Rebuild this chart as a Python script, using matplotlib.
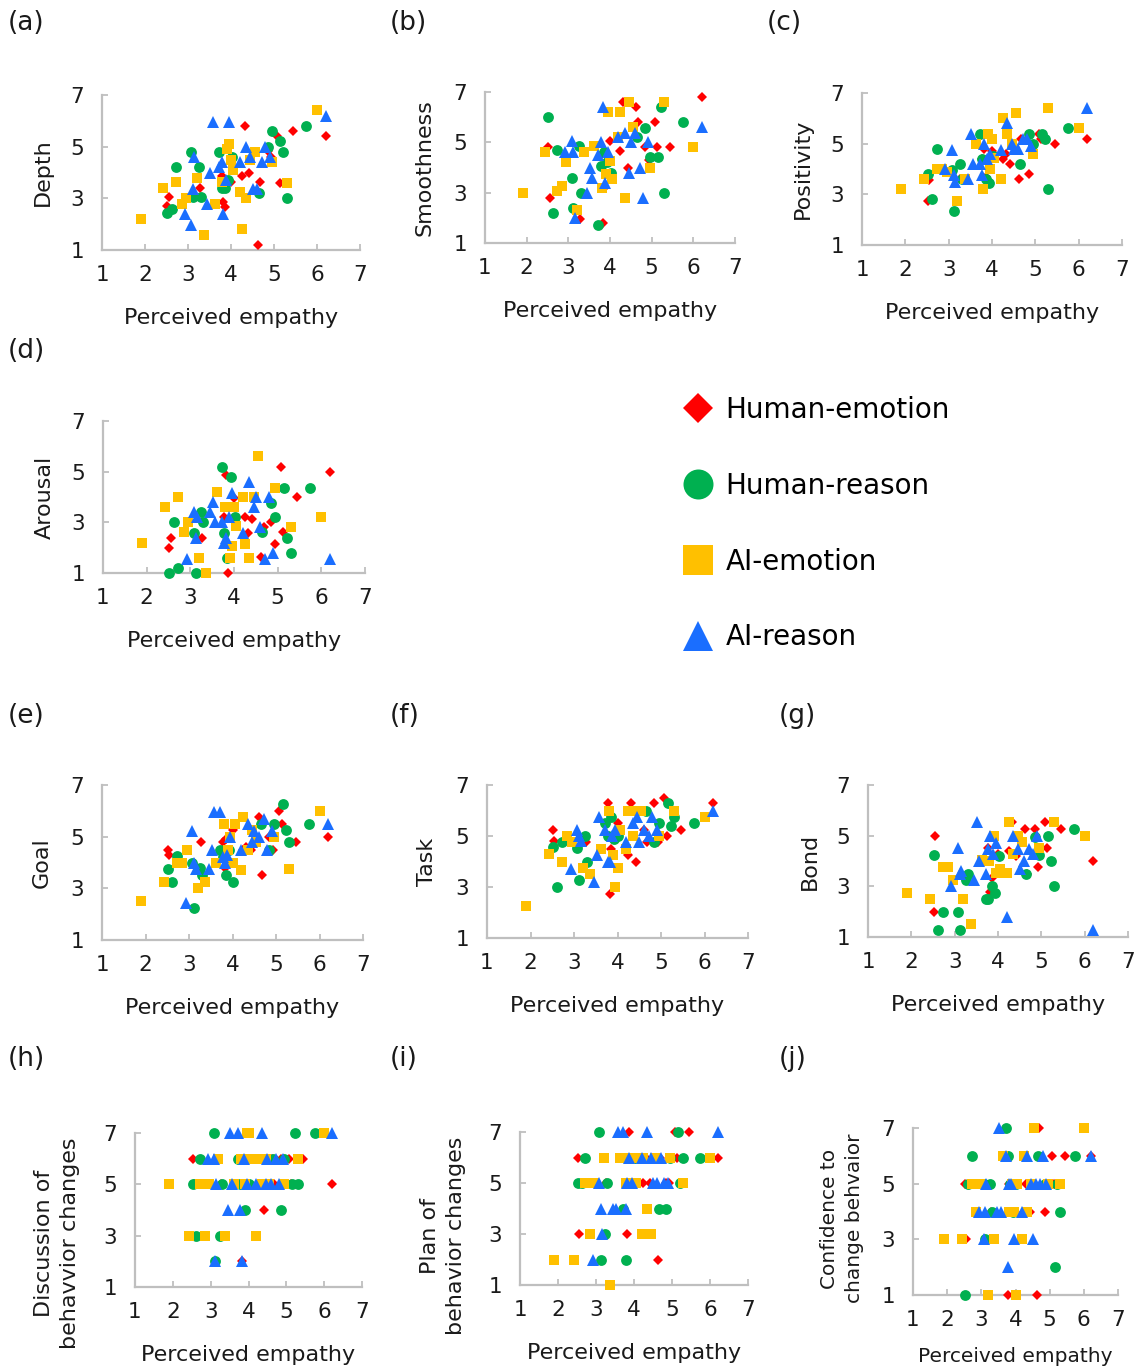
import matplotlib
matplotlib.use("Agg")
import matplotlib.pyplot as plt
from matplotlib.lines import Line2D

# ---------------- data ----------------
groups = ["Human-emotion", "Human-reason", "AI-emotion", "AI-reason"]

# perceived empathy of each participant, per group
he_x = [2.52, 2.55, 3.27, 3.78, 3.82, 3.86, 4.0, 4.25, 4.32, 4.42, 4.62, 4.68, 4.85, 4.93, 5.08, 5.13, 5.45, 6.2]
hr_x = [2.52, 2.62, 2.72, 3.08, 3.12, 3.25, 3.3, 3.72, 3.78, 3.85, 3.92, 4.02, 4.65, 4.85, 4.95, 5.15, 5.22, 5.3, 5.75]
ae_x = [1.9, 2.43, 2.72, 2.85, 2.95, 3.2, 3.37, 3.62, 3.8, 3.9, 3.95, 4.0, 4.05, 4.2, 4.25, 4.35, 4.45, 4.55, 4.95, 5.3, 6.0]
ar_x = [2.92, 3.08, 3.12, 3.15, 3.45, 3.52, 3.57, 3.72, 3.78, 3.82, 3.88, 3.95, 4.2, 4.35, 4.45, 4.5, 4.6, 4.72, 4.8, 4.9, 6.2]

# (a) Depth
depth_he = [2.7, 3.05, 3.4, 3.85, 2.85, 2.65, 3.65, 3.85, 5.8, 4.0, 1.2, 3.65, 4.85, 4.6, 5.4, 3.6, 5.6, 5.4]
depth_hr = [2.45, 2.6, 4.2, 4.8, 3.05, 4.2, 3.05, 4.8, 3.4, 3.4, 3.7, 4.6, 3.2, 5.0, 5.6, 5.2, 4.8, 3.0, 5.8]
depth_ae = [2.2, 3.4, 3.65, 2.8, 3.0, 3.8, 1.6, 2.8, 3.65, 4.9, 5.1, 4.5, 4.1, 3.25, 1.8, 3.0, 4.5, 4.8, 4.4, 3.6, 6.4]
depth_ar = [2.4, 1.95, 3.35, 4.6, 2.8, 4.0, 5.95, 4.2, 4.4, 2.4, 3.7, 5.95, 4.4, 5.0, 4.6, 3.35, 3.35, 4.4, 5.0, 4.6, 6.2]
# (b) Smoothness
smooth_he = [4.8, 2.8, 1.95, 4.5, 1.8, 3.2, 5.04, 4.65, 6.6, 4.0, 6.4, 5.8, 4.8, 4.3, 5.8, 4.8, 4.8, 6.8]
smooth_hr = [6.0, 2.2, 4.7, 3.6, 2.38, 4.85, 3.0, 1.73, 4.05, 4.6, 4.2, 3.8, 5.2, 5.55, 4.4, 4.4, 6.4, 3.0, 5.8]
smooth_ae = [3.0, 4.6, 3.05, 3.25, 4.2, 2.3, 4.6, 4.85, 3.2, 3.75, 6.2, 4.25, 3.55, 5.2, 6.2, 2.8, 6.6, 5.6, 4.0, 6.6, 4.8]
smooth_ar = [4.6, 5.04, 4.6, 2.0, 3.0, 4.0, 3.6, 4.5, 5.0, 6.4, 3.4, 4.6, 5.2, 5.37, 3.8, 5.0, 5.37, 4.0, 2.8, 5.0, 5.6]
# (c) Positivity
posit_he = [2.73, 3.56, 3.6, 4.4, 4.8, 3.7, 4.7, 4.4, 4.6, 4.2, 3.6, 5.2, 3.8, 4.8, 5.4, 5.2, 5.0, 5.2]
posit_hr = [3.82, 2.8, 4.8, 3.95, 2.35, 4.2, 3.6, 5.4, 4.4, 3.6, 3.45, 4.5, 4.2, 5.4, 5.0, 5.4, 5.2, 3.2, 5.6]
posit_ae = [3.2, 3.6, 4.0, 4.0, 3.9, 2.73, 3.6, 5.0, 3.2, 5.4, 4.0, 5.2, 4.45, 3.6, 6.0, 5.4, 5.0, 6.2, 4.6, 6.4, 5.6]
posit_ar = [4.0, 4.76, 3.76, 3.5, 3.6, 5.4, 4.2, 4.2, 3.76, 5.0, 4.4, 4.6, 4.76, 5.8, 5.0, 4.8, 4.8, 5.2, 5.2, 4.9, 6.4]
# (d) Arousal
arous_he = [1.98, 2.4, 2.4, 3.2, 4.87, 1.0, 3.98, 3.2, 2.57, 3.15, 1.65, 2.8, 3.0, 2.15, 5.2, 2.6, 4.0, 5.0]
arous_hr = [1.0, 3.0, 1.2, 2.57, 1.0, 3.4, 3.0, 5.2, 2.57, 1.6, 4.8, 3.2, 2.6, 3.75, 3.2, 4.37, 2.38, 1.8, 4.37]
arous_ae = [2.18, 3.6, 4.0, 2.6, 3.0, 1.6, 1.0, 4.2, 3.6, 1.6, 2.05, 3.6, 2.84, 4.0, 2.15, 1.6, 4.0, 5.6, 4.37, 2.8, 3.2]
arous_ar = [1.55, 3.4, 2.4, 3.2, 3.4, 3.8, 3.0, 3.0, 2.2, 2.4, 3.2, 4.15, 2.57, 4.6, 3.6, 4.0, 2.8, 1.55, 4.0, 1.8, 1.55]
# (e) Goal
goal_he = [4.5, 4.3, 4.78, 4.78, 3.8, 4.9, 5.24, 4.5, 4.6, 4.5, 5.77, 3.5, 4.97, 4.5, 6.0, 5.5, 4.78, 5.0]
goal_hr = [3.75, 3.25, 4.25, 4.0, 2.22, 3.78, 3.5, 4.5, 4.2, 3.5, 4.5, 3.25, 5.5, 4.5, 5.5, 6.25, 5.25, 4.78, 5.5]
goal_ae = [2.5, 3.25, 4.0, 4.0, 4.5, 3.0, 3.25, 4.0, 5.5, 4.5, 4.97, 4.0, 5.5, 3.7, 5.77, 4.5, 5.25, 4.78, 4.97, 3.75, 6.0]
goal_ar = [2.45, 5.23, 4.0, 3.75, 3.75, 4.5, 5.97, 5.97, 4.2, 4.0, 4.3, 5.0, 4.5, 5.5, 4.78, 5.23, 4.97, 5.7, 4.5, 5.23, 5.5]
# (f) Task
task_he = [5.25, 4.8, 4.77, 6.28, 2.72, 4.5, 5.52, 4.24, 6.28, 4.0, 5.25, 4.77, 6.28, 4.77, 6.5, 5.0, 5.25, 6.28]
task_hr = [4.55, 3.0, 4.78, 4.52, 3.26, 5.0, 4.0, 5.52, 5.0, 5.75, 4.9, 5.0, 6.0, 4.78, 5.52, 6.28, 5.4, 5.75, 5.52]
task_ae = [2.24, 4.3, 4.0, 5.0, 4.77, 3.73, 3.5, 4.5, 6.0, 4.24, 3.0, 3.73, 5.25, 4.5, 6.0, 5.0, 6.0, 6.0, 5.0, 6.0, 5.75]
task_ar = [3.7, 5.24, 5.0, 4.8, 3.2, 4.24, 5.75, 5.24, 4.0, 4.0, 5.0, 5.25, 4.77, 5.5, 5.75, 4.77, 5.25, 5.0, 5.75, 5.25, 6.0]
# (g) Bond
bond_he = [2.0, 5.0, 3.26, 4.53, 2.76, 3.33, 4.28, 4.4, 5.55, 4.2, 5.25, 3.5, 5.25, 3.77, 5.55, 4.53, 5.25, 4.0]
bond_hr = [4.25, 1.26, 2.0, 2.0, 1.26, 3.26, 3.5, 2.5, 2.5, 3.0, 2.75, 4.2, 3.5, 4.95, 4.25, 5.0, 4.0, 3.0, 5.25]
bond_ae = [2.74, 2.5, 3.77, 3.77, 3.26, 2.5, 1.5, 4.02, 4.0, 5.0, 3.52, 3.52, 3.7, 3.52, 5.55, 4.28, 5.0, 4.75, 4.53, 5.55, 5.0]
bond_ar = [3.0, 4.5, 3.5, 3.6, 3.26, 5.55, 4.0, 3.5, 4.48, 5.0, 4.26, 4.73, 1.78, 5.0, 4.48, 3.7, 4.0, 4.48, 4.26, 5.0, 1.26]
# (h) Discussion of behavior changes
disc_he = [6, 5, 5, 6, 2, 5, 6, 5, 6, 4, 6, 5, 6, 5, 6, 5, 6, 5]
disc_hr = [5, 3, 6, 7, 2, 3, 5, 6, 5, 6, 4, 5, 6, 4, 6, 5, 7, 5, 7]
disc_ae = [5, 3, 5, 3, 5, 6, 3, 5, 6, 5, 7, 7, 6, 3, 6, 5, 6, 5, 5, 6, 7]
disc_ar = [6, 6, 2, 5, 4, 7, 5, 7, 4, 2, 6, 5, 5, 7, 5, 6, 5, 6, 5, 6, 7]
# (i) Plan of behavior changes
plan_he = [6, 3, 5, 6, 3, 7, 6, 5, 6, 5, 2, 6, 5, 5, 7, 6, 7, 6]
plan_hr = [5, 5, 6, 7, 2, 3, 5, 4, 2, 6, 5, 6, 4, 4, 6, 7, 5, 6, 6]
plan_ae = [2, 2, 5, 3, 5, 6, 1, 6, 5, 6, 5, 6, 5, 3, 6, 4, 3, 6, 6, 5, 6]
plan_ar = [2, 5, 4, 3, 4, 4, 7, 7, 4, 5, 6, 5, 6, 7, 6, 5, 5, 6, 5, 5, 7]
# (j) Confidence to change behavior
conf_he = [5, 3, 4, 1, 5, 4, 5, 4, 5, 4, 1, 7, 4, 5, 6, 5, 6, 6]
conf_hr = [1, 5, 6, 5, 3, 5, 4, 7, 6, 5, 4, 5, 6, 5, 5, 2, 5, 4, 6]
conf_ae = [3, 3, 5, 4, 5, 1, 3, 6, 4, 5, 4, 1, 5, 3, 6, 4, 5, 7, 5, 5, 7]
conf_ar = [4, 3, 4, 5, 4, 7, 4, 6, 2, 5, 5, 3, 4, 6, 5, 3, 5, 5, 6, 5, 6]

x_ticks = [1, 2, 3, 4, 5, 6, 7]
y_ticks = [1, 3, 5, 7]
x_label = "Perceived empathy"

# ---------------- style ----------------
colors = ["#FF0000", "#00B050", "#FFC000", "#1A6EFF"]
markers = ["D", "o", "s", "^"]
msizes = [4.6, 7.8, 7.8, 8.0]
axis_gray = "#BFBFBF"

W, H = 1138, 1372
fig = plt.figure(figsize=(W / 100, H / 100), dpi=100)

xs = [he_x, hr_x, ae_x, ar_x]

# letter, ylabel, series, axes box (left, right, top, bottom px), ylabel center x px, ylabel y shift px, label size
panels = [
    ("(a)", "Depth", [depth_he, depth_hr, depth_ae, depth_ar], (102, 360, 95, 250), 43, 0, 16),
    ("(b)", "Smoothness", [smooth_he, smooth_hr, smooth_ae, smooth_ar], (485, 735, 92, 243), 425, 0, 16),
    ("(c)", "Positivity", [posit_he, posit_hr, posit_ae, posit_ar], (862, 1122, 93, 245), 803, 0, 16),
    ("(d)", "Arousal", [arous_he, arous_hr, arous_ae, arous_ar], (103, 365, 421, 573), 45, 0, 16),
    ("(e)", "Goal", [goal_he, goal_hr, goal_ae, goal_ar], (102, 363, 785, 940), 42, 0, 16),
    ("(f)", "Task", [task_he, task_hr, task_ae, task_ar], (487, 748, 785, 938), 427, 0, 16),
    ("(g)", "Bond", [bond_he, bond_hr, bond_ae, bond_ar], (868, 1128, 785, 937), 810, 0, 16),
    ("(h)", "Discussion of\nbehavvior changes", [disc_he, disc_hr, disc_ae, disc_ar], (135, 362, 1133, 1287), 57, 33, 16),
    ("(i)", "Plan of\nbehavior changes", [plan_he, plan_hr, plan_ae, plan_ar], (520, 748, 1132, 1285), 443, 27, 16),
    ("(j)", "Confidence to\nchange behvaior", [conf_he, conf_hr, conf_ae, conf_ar], (913, 1118, 1128, 1295), 842, 7, 14.5),
]
letter_pos = [(8, 23), (390, 23), (767, 23), (8, 351), (8, 716), (390, 716), (779, 716),
              (8, 1059), (390, 1059), (779, 1059)]

for (letter, ylab, series, box, ylx, yshift, lsize), (lx, ly) in zip(panels, letter_pos):
    l, r, t, b = box
    wpx, hpx = r - l, b - t
    ax = fig.add_axes([l / W, 1 - b / H, wpx / W, hpx / H])
    for xv, yv, c, m, ms in zip(xs, series, colors, markers, msizes):
        ax.plot(xv, yv, linestyle="none", marker=m, markersize=ms, color=c,
                markeredgewidth=0, clip_on=False, zorder=3)
    ax.set_xlim(1, 7)
    ax.set_ylim(1, 7)
    ax.set_xticks(x_ticks)
    ax.set_yticks(y_ticks)
    for s in ("top", "right"):
        ax.spines[s].set_visible(False)
    for s in ("left", "bottom"):
        ax.spines[s].set_color(axis_gray)
        ax.spines[s].set_linewidth(1.6)
    ax.tick_params(axis="both", direction="in", length=4, width=1.3, color=axis_gray,
                   labelsize=15.5, labelcolor="#1a1a1a")
    ax.tick_params(axis="x", pad=11)
    ax.tick_params(axis="y", pad=13)
    ax.set_xlabel(x_label, fontsize=lsize, color="#1a1a1a", va="center")
    ax.xaxis.set_label_coords(0.5, -68 / hpx if letter != "(j)" else -62 / hpx)
    ax.set_ylabel(ylab, fontsize=lsize, color="#1a1a1a", va="center", ha="center",
                  linespacing=1.35)
    ax.yaxis.set_label_coords((ylx - l) / wpx, 0.5 - yshift / hpx)
    fig.text(lx / W, 1 - ly / H, letter, fontsize=19, ha="left", va="center", color="#1a1a1a")

handles = [Line2D([0], [0], linestyle="none", marker=m, color=c, markeredgewidth=0,
                  markersize=s)
           for m, c, s in zip(markers, colors, [14.8, 21.6, 21.6, 21.6])]
fig.legend(handles, groups, loc="upper left", bbox_to_anchor=(684 / W, 1 - 396 / H),
           frameon=False, fontsize=20, handlelength=1.0, handletextpad=0.5,
           labelspacing=1.72, borderpad=0, borderaxespad=0)

fig.savefig("out.png", dpi=100, facecolor="white")
